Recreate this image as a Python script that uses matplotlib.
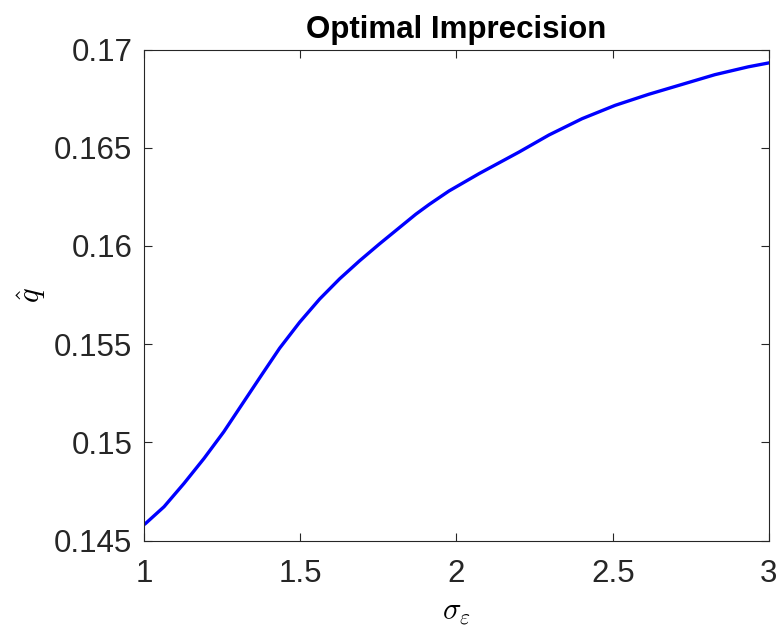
import matplotlib
matplotlib.use("Agg")
import matplotlib.pyplot as plt

# values
sigma_eps = [1.000, 1.005, 1.064, 1.128, 1.192, 1.255, 1.314, 1.376, 1.434,
             1.498, 1.562, 1.626, 1.690, 1.753, 1.870, 1.913, 1.976, 2.073,
             2.200, 2.296, 2.402, 2.508, 2.615, 2.721, 2.827, 2.934, 3.000]
q_hat = [0.14582, 0.14588, 0.14673, 0.14792, 0.14919, 0.15054, 0.15195,
         0.15343, 0.15480, 0.15612, 0.15730, 0.15833, 0.15925, 0.16010,
         0.16162, 0.16212, 0.16280, 0.16369, 0.16478, 0.16565, 0.16648,
         0.16716, 0.16772, 0.16822, 0.16872, 0.16912, 0.16932]
xticks = [1, 1.5, 2, 2.5, 3]
xtick_labels = ["1", "1.5", "2", "2.5", "3"]
yticks = [0.145, 0.15, 0.155, 0.16, 0.165, 0.17]
ytick_labels = ["0.145", "0.15", "0.155", "0.16", "0.165", "0.17"]

plt.rcParams['font.family'] = ['Liberation Sans', 'DejaVu Sans']
plt.rcParams['mathtext.fontset'] = 'cm'

fig = plt.figure(figsize=(7.83, 6.35), dpi=100)
ax = fig.add_axes([0.184, 0.1485, 0.798, 0.7735])

ax.plot(sigma_eps, q_hat, color=(0, 0, 1), linewidth=2.4)

ax.set_xlim(1, 3)
ax.set_ylim(0.145, 0.17)
ax.set_xticks(xticks)
ax.set_xticklabels(xtick_labels)
ax.set_yticks(yticks)
ax.set_yticklabels(ytick_labels)

gray = (0.15, 0.15, 0.15)
for s in ax.spines.values():
    s.set_color(gray)
    s.set_linewidth(0.8)
ax.tick_params(direction='in', length=6, width=0.8, colors=gray,
               labelsize=22.5, top=True, right=True)
ax.tick_params(axis='x', pad=13)
ax.tick_params(axis='y', pad=8.5)
for lbl in ax.get_xticklabels() + ax.get_yticklabels():
    lbl.set_color(gray)

ax.set_title("Optimal Imprecision", fontsize=22.5, fontweight='bold', pad=8.5)
ax.set_xlabel(r"$\sigma_\varepsilon$", fontsize=22, labelpad=6)
ax.set_ylabel(r"$\hat{q}$", fontsize=22, labelpad=4)

fig.savefig("out.png", dpi=100)
